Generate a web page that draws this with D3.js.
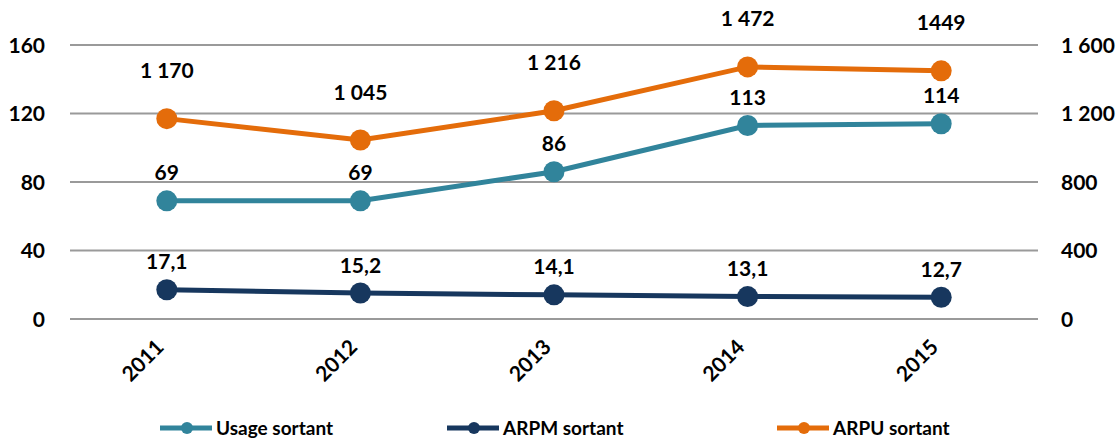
<!DOCTYPE html>
<html>
<head>
<meta charset="utf-8">
<script src="https://cdn.jsdelivr.net/npm/d3@7"></script>
<style>
  body { margin: 0; background: #fff; }
  text { font-family: Lato, "Open Sans", sans-serif; font-weight: 700; fill: #000; }
</style>
</head>
<body>
<svg id="chart" width="1118" height="438"></svg>
<script>
// data
const years = ["2011", "2012", "2013", "2014", "2015"];
const usage = [69, 69, 86, 113, 114];
const arpm = [17.1, 15.2, 14.1, 13.1, 12.7];
const arpu = [1170, 1045, 1216, 1472, 1449];
const arpuLabels = ["1 170", "1 045", "1 216", "1 472", "1449"];
const leftTicks = [0, 40, 80, 120, 160];
const rightTicks = [0, 400, 800, 1200, 1600];

const svg = d3.select("#chart");
const plotLeft = 70, plotRight = 1038, plotTop = 45, plotBottom = 319;
const fs = "21px";

const x = d3.scaleBand().domain(years).range([plotLeft, plotRight]);
const cx = d => x(d) + x.bandwidth() / 2;
const yL = d3.scaleLinear().domain([0, 160]).range([plotBottom, plotTop]);
const yR = d3.scaleLinear().domain([0, 1600]).range([plotBottom, plotTop]);

const fmt = v => d3.format(",")(v).replace(/,/g, " ");

// gridlines
svg.selectAll(".grid")
  .data(leftTicks)
  .enter()
  .append("line")
  .attr("x1", plotLeft)
  .attr("x2", plotRight)
  .attr("y1", d => yL(d))
  .attr("y2", d => yL(d))
  .style("stroke", "#9a9a9a")
  .style("stroke-width", 2);

// left axis labels
svg.selectAll(".ltick")
  .data(leftTicks)
  .enter()
  .append("text")
  .attr("x", 45)
  .attr("y", d => yL(d))
  .attr("dy", "0.36em")
  .style("text-anchor", "end")
  .style("font-size", fs)
  .text(d => d);

// right axis labels
svg.selectAll(".rtick")
  .data(rightTicks)
  .enter()
  .append("text")
  .attr("x", 1061)
  .attr("y", d => yR(d))
  .attr("dy", "0.36em")
  .style("text-anchor", "start")
  .style("font-size", fs)
  .text(d => fmt(d));

// year labels
svg.selectAll(".year")
  .data(years)
  .enter()
  .append("text")
  .attr("transform", d => `translate(${cx(d) - 7},${plotBottom + 24}) rotate(-45)`)
  .style("text-anchor", "end")
  .attr("dy", "0.36em")
  .style("font-size", fs)
  .text(d => d);

const series = [
  { name: "Usage sortant", values: usage, y: yL, color: "#31849B", labels: usage.map(String), off: 28 },
  { name: "ARPM sortant", values: arpm, y: yL, color: "#17375E", labels: arpm.map(v => String(v).replace(".", ",")), off: 28 },
  { name: "ARPU sortant", values: arpu, y: yR, color: "#E46C0A", labels: arpuLabels, off: 48 },
];

const line = d3.line();

series.forEach(s => {
  const pts = s.values.map((v, i) => [cx(years[i]), s.y(v)]);
  svg.append("path")
    .attr("d", line(pts))
    .style("fill", "none")
    .style("stroke", s.color)
    .style("stroke-width", 5);
  svg.selectAll(null)
    .data(pts)
    .enter()
    .append("circle")
    .attr("cx", d => d[0])
    .attr("cy", d => d[1])
    .attr("r", 10.5)
    .style("fill", s.color);
  svg.selectAll(null)
    .data(pts)
    .enter()
    .append("text")
    .attr("x", d => d[0])
    .attr("y", d => d[1] - s.off)
    .attr("dy", "0.36em")
    .style("text-anchor", "middle")
    .style("font-size", fs)
    .text((d, i) => s.labels[i]);
});

// legend
const legendX = [160, 447, 777];
series.forEach((s, i) => {
  const g = svg.append("g").attr("transform", `translate(${legendX[i]},428)`);
  g.append("line")
    .attr("x1", 0).attr("x2", 52)
    .style("stroke", s.color)
    .style("stroke-width", 5);
  g.append("circle")
    .attr("cx", 27).attr("r", 6)
    .style("fill", s.color);
  g.append("text")
    .attr("x", 56)
    .attr("dy", "0.36em")
    .style("font-size", "19px")
    .text(s.name);
});
</script>
</body>
</html>
